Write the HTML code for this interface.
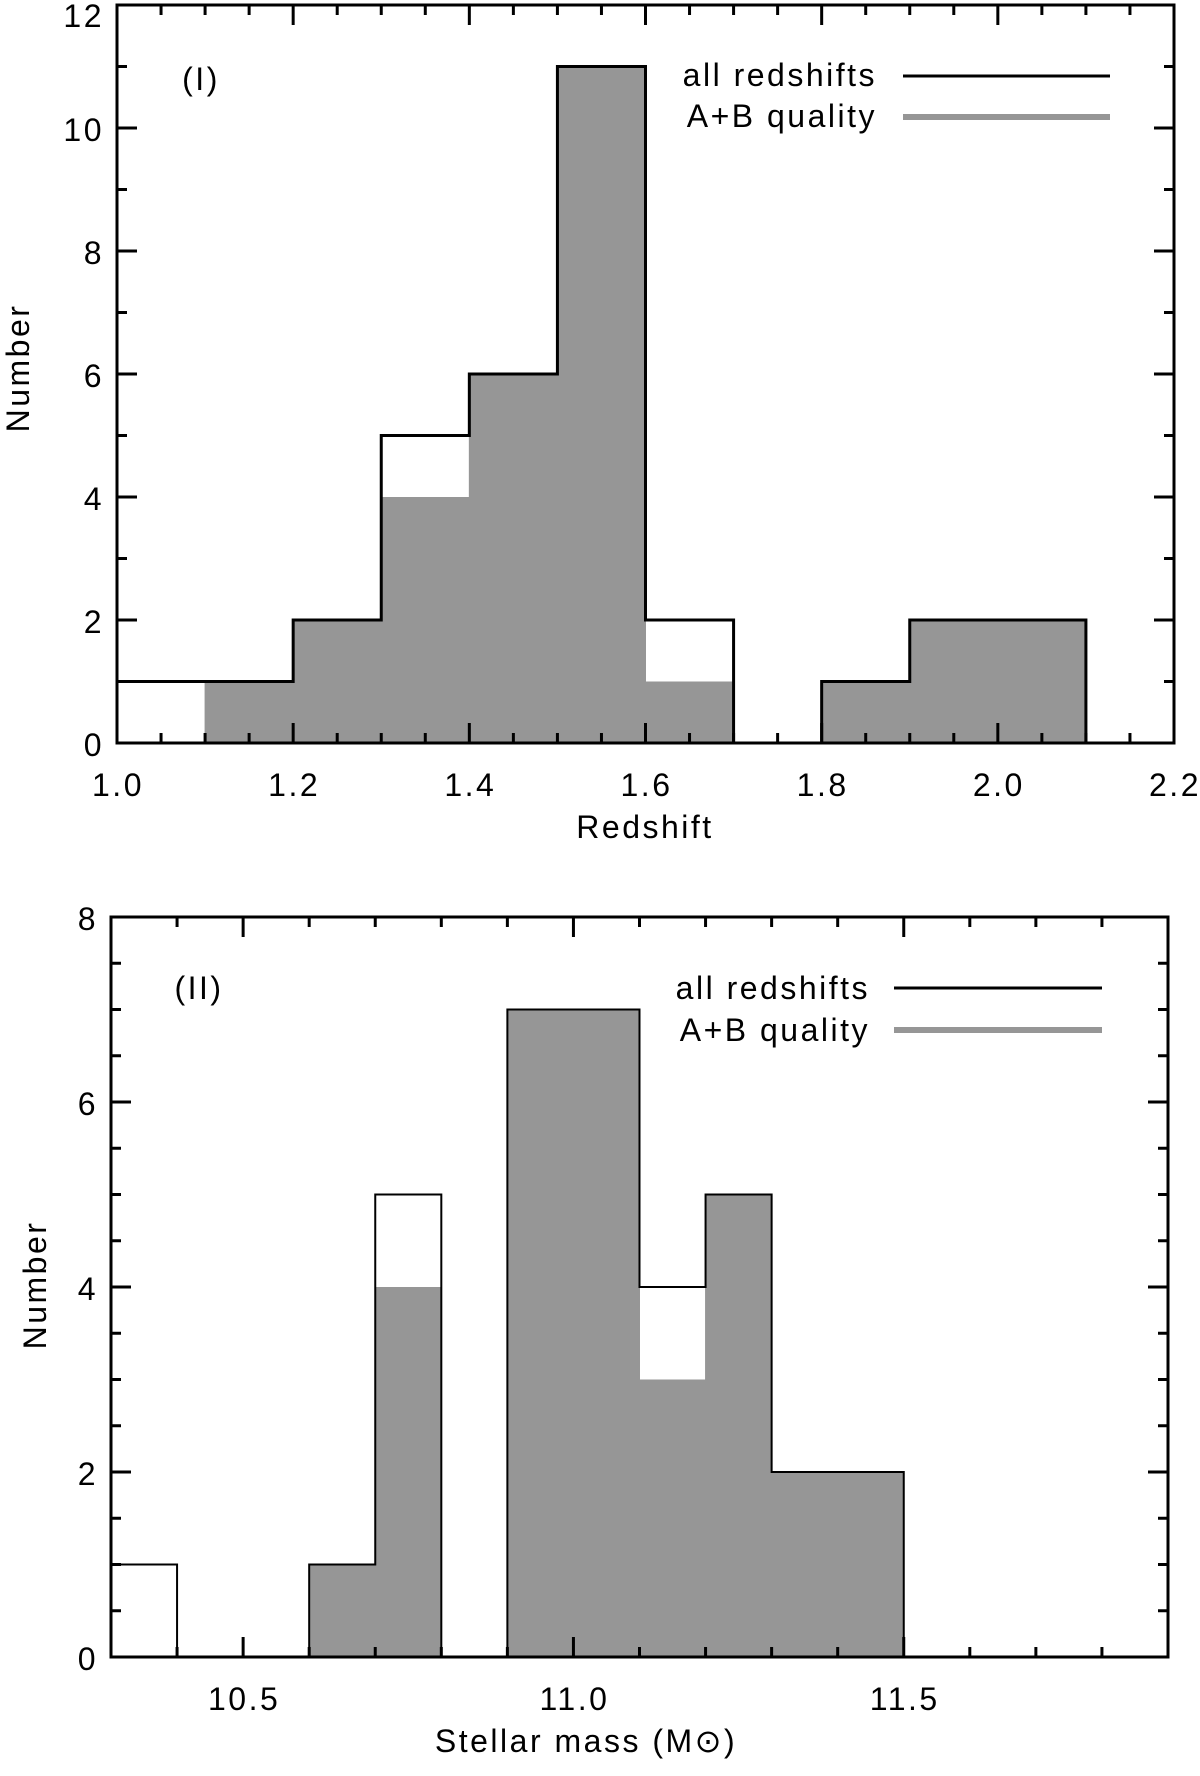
<!DOCTYPE html>
<html><head><meta charset="utf-8"><style>
html,body{margin:0;padding:0;background:#fff;}
svg{display:block;font-family:"Liberation Sans",sans-serif;}
svg text{letter-spacing:2.5px;}
</style></head><body>
<svg id="fig" width="1200" height="1776" viewBox="0 0 1200 1776" xmlns="http://www.w3.org/2000/svg">
<g id="p1"></g>
<g id="p2"></g>
</svg>
<script>
// Panel I: redshift
const zEdges0 = 1.0, zStep = 0.1;
const zAll = [1,1,2,5,6,11,2,0,1,2,2];
const zAB  = [0,1,2,4,6,11,1,0,1,2,2];
const zXTicks = ['1.0','1.2','1.4','1.6','1.8','2.0','2.2'];
const zYTicks = ['0','2','4','6','8','10','12'];
// Panel II: stellar mass
const mEdges0 = 10.3, mStep = 0.1;
const mAll = [1,0,0,1,5,0,7,7,4,5,2,2];
const mAB  = [0,0,0,1,4,0,7,7,3,5,2,2];
const mXTicks = ['10.5','11.0','11.5'];
const mYTicks = ['0','2','4','6','8'];

const NS='http://www.w3.org/2000/svg';
function mk(parent,tag,attrs,text){const e=document.createElementNS(NS,tag);for(const k in attrs)e.setAttribute(k,attrs[k]);if(text!==undefined)e.textContent=text;parent.appendChild(e);return e;}

function panel(g,cfg){
  const {x0,x1,y0,y1,xmin,xmax,ymax,e0,step,all,ab,xt,yt,minX,minY,lw,ow}=cfg;
  const X=v=>x0+(v-xmin)/(xmax-xmin)*(x1-x0);
  const Y=v=>y0-v/ymax*(y0-y1);
  ab.forEach((v,i)=>{ if(v<=0)return;
    const r=mk(g,'rect',{x:X(e0+i*step)-0.5,y:Y(v),width:X(e0+(i+1)*step)-X(e0+i*step)+1,height:y0-Y(v),fill:'#969696'});
    
    
  });
  let d='';
  all.forEach((v,i)=>{const a=X(e0+i*step),b=X(e0+(i+1)*step);
    d+=(i===0?'M'+a+' '+Y(0):'')+' L'+a+' '+Y(Math.max(v,0))+' L'+b+' '+Y(v);
    const next=i<all.length-1?all[i+1]:0;
    if(next===0) d+=' L'+b+' '+Y(0);
  });
  const p=mk(g,'path',{d:d,fill:'none',stroke:'#000','stroke-width':lw,'stroke-linejoin':'miter'});
  
  
  for(let v=xmin;v<=xmax+1e-9;v+=minX){
    const isMaj=Math.abs(Math.round((v-cfg.majX0)/cfg.majX)*cfg.majX-(v-cfg.majX0))<1e-6;
    const L=isMaj?20:10;
    mk(g,'line',{x1:X(v),x2:X(v),y1:y0,y2:y0-L,stroke:'#000','stroke-width':3});
    mk(g,'line',{x1:X(v),x2:X(v),y1:y1,y2:y1+L,stroke:'#000','stroke-width':3});
  }
  for(let v=0;v<=ymax+1e-9;v+=minY){
    const isMaj=Math.abs(v/2-Math.round(v/2))<1e-6;
    const L=isMaj?20:10;
    mk(g,'line',{x1:x0,x2:x0+L,y1:Y(v),y2:Y(v),stroke:'#000','stroke-width':3});
    mk(g,'line',{x1:x1,x2:x1-L,y1:Y(v),y2:Y(v),stroke:'#000','stroke-width':3});
  }
  const fr=mk(g,'rect',{x:x0,y:y1,width:x1-x0,height:y0-y1,fill:'none',stroke:'#000','stroke-width':ow});
  
  
  xt.forEach(t=>{const e=mk(g,'text',{x:X(parseFloat(t))+1,y:y0+53,'text-anchor':'middle','font-size':32},t);
    
    });
  yt.forEach(t=>{const yy=Math.max(Y(parseFloat(t))+2,16);
    const e=mk(g,'text',{x:x0-13,y:yy+11,'text-anchor':'end','font-size':32},t);
    
    });
}
const g1=document.getElementById('p1'), g2=document.getElementById('p2');
panel(g1,{x0:117,x1:1174,y0:743,y1:5,xmin:1.0,xmax:2.2,ymax:12,e0:zEdges0,step:zStep,all:zAll,ab:zAB,xt:zXTicks,yt:zYTicks,minX:0.05,minY:1,majX0:1.0,majX:0.2,lw:3,ow:3});
panel(g2,{x0:111,x1:1168,y0:1657,y1:917,xmin:10.3,xmax:11.9,ymax:8,e0:mEdges0,step:mStep,all:mAll,ab:mAB,xt:mXTicks,yt:mYTicks,minX:0.1,minY:0.5,majX0:10.5,majX:0.5,lw:2,ow:3});

function txt(g,name,attrs,s){const e=mk(g,'text',attrs,s);return e;}
txt(g1,'x-axis-title',{x:645,y:838,'text-anchor':'middle','font-size':32},'Redshift');
txt(g1,'y-axis-title',{x:0,y:0,'text-anchor':'middle','font-size':32,transform:'translate(29,368) rotate(-90)'},'Number');
txt(g1,'panel-label',{x:201,y:90,'text-anchor':'middle','font-size':32},'(I)');
txt(g1,'legend-all-label',{x:877,y:86,'text-anchor':'end','font-size':32},'all redshifts');
txt(g1,'legend-ab-label',{x:877,y:127,'text-anchor':'end','font-size':32},'A+B quality');
let l=mk(g1,'line',{x1:903,x2:1110,y1:76,y2:76,stroke:'#000','stroke-width':3});

l=mk(g1,'line',{x1:903,x2:1110,y1:117,y2:117,stroke:'#969696','stroke-width':6});


txt(g2,'x-axis-title',{x:586,y:1752,'text-anchor':'middle','font-size':32},'Stellar mass (M\u2299)');
txt(g2,'y-axis-title',{x:0,y:0,'text-anchor':'middle','font-size':32,transform:'translate(46,1285) rotate(-90)'},'Number');
txt(g2,'panel-label',{x:199,y:999,'text-anchor':'middle','font-size':32},'(II)');
txt(g2,'legend-all-label',{x:870,y:999,'text-anchor':'end','font-size':32},'all redshifts');
txt(g2,'legend-ab-label',{x:870,y:1041,'text-anchor':'end','font-size':32},'A+B quality');
l=mk(g2,'line',{x1:894,x2:1102,y1:988,y2:988,stroke:'#000','stroke-width':3});

l=mk(g2,'line',{x1:894,x2:1102,y1:1030,y2:1030,stroke:'#969696','stroke-width':6});

</script>
</body></html>
